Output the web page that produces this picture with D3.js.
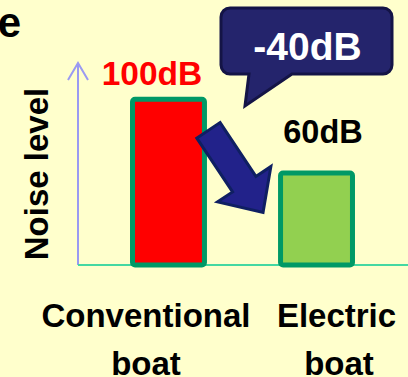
<!DOCTYPE html>
<html>
<head>
<meta charset="utf-8">
<script src="https://cdn.jsdelivr.net/npm/d3@7"></script>
<style>
  html, body { margin: 0; padding: 0; background: #FFFFCC; overflow: hidden; }
  svg { display: block; }
  text { font-family: "Liberation Sans", Arial, sans-serif; font-weight: bold; }
</style>
</head>
<body>
<svg id="chart" width="408" height="377"></svg>
<script>
// ---- data ----
const categories = ["Conventional boat", "Electric boat"];
const categoryLines = [["Conventional", "boat"], ["Electric", "boat"]];
const noiseValues = [100, 60];
const valueLabels = ["100dB", "60dB"];
const reductionLabel = "-40dB";
const yAxisTitle = "Noise level";
const titleFragment = "e";

// ---- setup ----
const W = 408, H = 377;
const svg = d3.select("#chart");
svg.append("rect").attr("width", W).attr("height", H).attr("fill", "#FFFFCC");

const axisX0 = 78, baseY = 265;

const x = d3.scaleBand()
  .domain(categories)
  .range([58.5, 426.5])
  .paddingInner(0.514)
  .paddingOuter(0.5);

const y = d3.scaleLinear().domain([10, 100]).range([baseY, 99.3]);

// title fragment (cut off at left)
svg.append("text")
  .attr("x", 21).attr("y", 37)
  .attr("text-anchor", "end")
  .attr("font-size", 42)
  .attr("fill", "#000")
  .text(titleFragment);

// y axis (arrow)
const yAxisColor = "#9a9af2";
svg.append("line")
  .attr("x1", axisX0).attr("x2", axisX0)
  .attr("y1", baseY).attr("y2", 63)
  .attr("stroke", yAxisColor).attr("stroke-width", 2);
svg.append("path")
  .attr("d", `M${axisX0 - 10},${80} L${axisX0},${63} L${axisX0 + 10},${80}`)
  .attr("fill", "none").attr("stroke", yAxisColor).attr("stroke-width", 2);

// x axis
svg.append("line")
  .attr("x1", axisX0).attr("x2", W)
  .attr("y1", baseY).attr("y2", baseY)
  .attr("stroke", "#44d8a2").attr("stroke-width", 2);

// bars
const barFills = ["#FF0000", "#92D050"];
svg.selectAll("rect.bar")
  .data(noiseValues)
  .join("rect")
  .attr("class", "bar")
  .attr("x", (d, i) => x(categories[i]))
  .attr("y", d => y(d))
  .attr("width", x.bandwidth())
  .attr("height", d => baseY - y(d))
  .attr("rx", 2.5)
  .attr("fill", (d, i) => barFills[i])
  .attr("stroke", "#009966")
  .attr("stroke-width", 5);

// value labels
const labelOffsets = [{dx: -16.5, dy: -14.5, color: "#FF0000"}, {dx: 6.5, dy: -29.5, color: "#000"}];
svg.selectAll("text.val")
  .data(noiseValues)
  .join("text")
  .attr("class", "val")
  .attr("x", (d, i) => x(categories[i]) + x.bandwidth() / 2 + labelOffsets[i].dx)
  .attr("y", (d, i) => y(d) + labelOffsets[i].dy)
  .attr("text-anchor", "middle")
  .attr("font-size", (d, i) => i === 0 ? 33.5 : 32.5)
  .attr("fill", (d, i) => labelOffsets[i].color)
  .text((d, i) => valueLabels[i]);

// category labels
const catOffsets = [-22.5, 20];
categories.forEach((c, i) => {
  const cx = x(c) + x.bandwidth() / 2 + catOffsets[i];
  const t = svg.append("text")
    .attr("x", cx).attr("y", 327)
    .attr("text-anchor", "middle")
    .attr("font-size", 33)
    .attr("fill", "#000");
  categoryLines[i].forEach((ln, k) => {
    t.append("tspan").attr("x", cx + (k === 1 && i === 1 ? 2.5 : 0)).attr("dy", k === 0 ? 0 : 48).text(ln);
  });
});

// y axis title
svg.append("text")
  .attr("transform", `translate(48,174) rotate(-90)`)
  .attr("text-anchor", "middle")
  .attr("font-size", 33)
  .attr("fill", "#000")
  .text(yAxisTitle);

// block arrow from bar 1 towards bar 2
{
  const b1Right = x(categories[0]) + x.bandwidth();
  const b2Left = x(categories[1]);
  const sx = b1Right + 4, sy = y(noiseValues[0]) + 31;
  const tx = b2Left - 17.5, ty = y(noiseValues[1]) + 39.5;
  const dx = tx - sx, dy = ty - sy;
  const len = Math.hypot(dx, dy);
  const ux = dx / len, uy = dy / len;
  const nx = -uy, ny = ux;
  const sw = 14, hw = 32, hl = 34;
  const hx = tx - ux * hl, hy = ty - uy * hl;
  const pts = [
    [sx + nx * sw, sy + ny * sw],
    [hx + nx * sw, hy + ny * sw],
    [hx + nx * hw, hy + ny * hw],
    [tx, ty],
    [hx - nx * hw, hy - ny * hw],
    [hx - nx * sw, hy - ny * sw],
    [sx - nx * sw, sy - ny * sw]
  ];
  svg.append("path")
    .attr("d", d3.line()(pts) + "Z")
    .attr("fill", "#22228a")
    .attr("stroke", "#0f1f62")
    .attr("stroke-width", 3)
    .attr("stroke-linejoin", "miter");
}

// callout
{
  const bx0 = 221, by0 = 8, bx1 = 392, by1 = 74, r = 9;
  const tailL = 249, tailR = 292, tipX = 245, tipY = 106;
  const p = d3.path();
  p.moveTo(bx0 + r, by0);
  p.lineTo(bx1 - r, by0);
  p.arcTo(bx1, by0, bx1, by0 + r, r);
  p.lineTo(bx1, by1 - r);
  p.arcTo(bx1, by1, bx1 - r, by1, r);
  p.lineTo(tailR, by1);
  p.lineTo(tipX, tipY);
  p.lineTo(tailL, by1);
  p.lineTo(bx0 + r, by1);
  p.arcTo(bx0, by1, bx0, by1 - r, r);
  p.lineTo(bx0, by0 + r);
  p.arcTo(bx0, by0, bx0 + r, by0, r);
  p.closePath();
  svg.append("path")
    .attr("d", p.toString())
    .attr("fill", "#24246c")
    .attr("stroke", "#141446")
    .attr("stroke-width", 3);
  svg.append("text")
    .attr("x", 307.5).attr("y", 60)
    .attr("text-anchor", "middle")
    .attr("font-size", 39)
    .attr("fill", "#FFFFFF")
    .text(reductionLabel);
}
</script>
</body>
</html>
